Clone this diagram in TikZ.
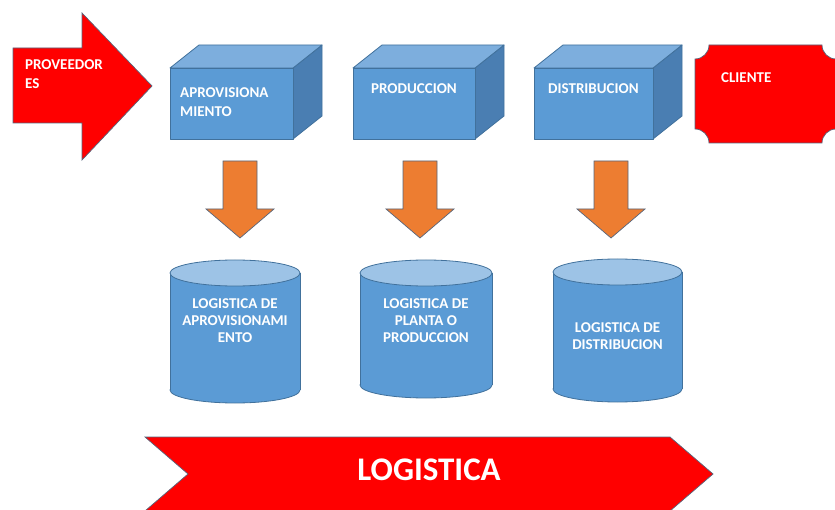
\documentclass[tikz,border=0pt]{standalone}
\usepackage{fontspec}
\setmainfont{Carlito}
\definecolor{boxfront}{HTML}{5B9BD5}
\definecolor{boxtop}{HTML}{7DAEDD}
\definecolor{boxside}{HTML}{4A7EB2}
\definecolor{boxline}{HTML}{41719C}
\definecolor{cyltop}{HTML}{9DC3E6}
\definecolor{redfill}{HTML}{FF0000}
\definecolor{orangefill}{HTML}{ED7D31}
\definecolor{edgegray}{HTML}{56657C}
\tikzset{
  face/.style={fill=boxfront, draw=boxline, line width=0.8pt, line join=round},
  redshape/.style={fill=redfill, draw=edgegray, line width=0.7pt, line join=miter},
  downarrow/.style={fill=orangefill, draw=edgegray, line width=0.7pt},
  lbl/.style={text=white, inner sep=0pt, font=\bfseries\fontsize{15}{19}\selectfont},
  cyllbl/.style={text=white, inner sep=0pt, align=center, font=\bfseries\fontsize{15}{17}\selectfont}
}
\begin{document}
\begin{tikzpicture}[x=1pt,y=-1pt]
\useasboundingbox (0,0) rectangle (835,510);

% proveedores and cliente
\draw[redshape] (13,48) -- (82,48) -- (82,13) -- (152,86) -- (82,160) -- (82,123) -- (13,123) -- cycle;
\node[lbl, anchor=north west, align=left] (prov) at (25,59) {PROVEEDOR\\ES};
\draw[redshape] (709,45) -- (822,45) .. controls (822,52.7) and (828.3,59) .. (836,59)
  -- (836,129) .. controls (828.3,129) and (822,135.3) .. (822,143)
  -- (709,143) .. controls (709,135.3) and (702.7,129) .. (695,129)
  -- (695,59) .. controls (702.7,59) and (709,52.7) .. (709,45) -- cycle;
\node[lbl, anchor=north west] (clie) at (721,72) {CLIENTE};

% cubes
\foreach \a/\b in {170/293, 353/475, 534/653}
 {
  \draw[face, fill=boxside] (\b,68) -- (\b+29,45) -- (\b+29,116) -- (\b,139) -- cycle;
  \draw[face, fill=boxtop] (\a,68) -- (\a+29,45) -- (\b+29,45) -- (\b,68) -- cycle;
  \draw[face] (\a,68) rectangle (\b,139);
 }
\node[lbl, anchor=north west, align=left] (apro) at (180,87) {APROVISIONA\\MIENTO};
\node[lbl, anchor=north west] (prod) at (371,83) {PRODUCCION};
\node[lbl, anchor=north west] (dist) at (548,83) {DISTRIBUCION};

% orange arrows
\foreach \c in {240, 420, 611}
  \draw[downarrow] (\c-17,161) -- (\c+17,161) -- (\c+17,209) -- (\c+34,209) -- (\c,238) -- (\c-34,209) -- (\c-17,209) -- cycle;

% cylinders
\foreach \c/\r/\t/\u in {235/65/273/390, 426/66/273/385, 617.5/64.5/272/389}
 {
  \draw[face] (\c,\u) ellipse[x radius=\r, y radius=13];
  \fill[boxfront] (\c-\r,\t) rectangle (\c+\r,\u);
  \draw[boxline, line width=0.8pt] (\c-\r,\t) -- (\c-\r,\u) (\c+\r,\t) -- (\c+\r,\u);
  \draw[face, fill=cyltop] (\c,\t) ellipse[x radius=\r, y radius=13];
 }
\node[cyllbl, anchor=north] (lapro) at (235,298) {LOGISTICA DE\\APROVISIONAMI\\ENTO};
\node[cyllbl, anchor=north] (lprod) at (426,298) {LOGISTICA DE\\PLANTA O\\PRODUCCION};
\node[cyllbl, anchor=north] (ldist) at (617.5,322) {LOGISTICA DE\\DISTRIBUCION};

% logistica chevron
\draw[redshape] (145,437) -- (670,437) -- (713,474) -- (670,511) -- (145,511) -- (188,474) -- cycle;
\node[text=white, inner sep=0pt, font=\bfseries\fontsize{33}{36}\selectfont] (logi) at (429,470) {LOGISTICA};
\end{tikzpicture}
\end{document}
